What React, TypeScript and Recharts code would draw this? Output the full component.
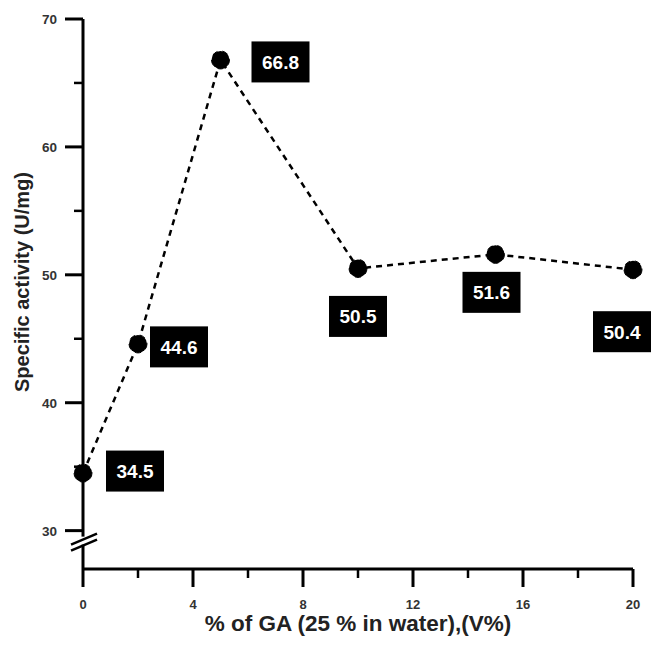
import React from 'react';
import { LineChart, Line, XAxis, YAxis, LabelList } from 'recharts';

const gaPercent = [0, 2, 5, 10, 15, 20];
const activity = [34.5, 44.6, 66.8, 50.5, 51.6, 50.4];
const xTicks = [0, 2, 4, 6, 8, 10, 12, 14, 16, 18, 20];
const yTicks = [30, 35, 40, 45, 50, 55, 60, 65, 70];
// label box offsets (px) from each point
const labelDx = [52, 41, 60, 0, -4, -11];
const labelDy = [-2, 3, 2, 48, 38, 62];

const data = gaPercent.map((x, i) => ({ x, y: activity[i] }));

const FONT = 'Arial, "Liberation Sans", sans-serif';

const XTick = (props: any) => {
  const { x, y, payload } = props;
  const v = payload.value;
  const major = v % 4 === 0;
  return (
    <g>
      <line x1={x} y1={y} x2={x} y2={y + (major ? 18 : 9)} stroke="#000" strokeWidth={major ? 3 : 2.5} />
      {major && (
        <text x={x} y={y + 40} textAnchor="middle" fontSize={13} fontWeight="bold" fill="#333" fontFamily={FONT}>
          {v}
        </text>
      )}
    </g>
  );
};

const YTick = (props: any) => {
  const { x, y, payload } = props;
  const v = payload.value;
  const major = v % 10 === 0;
  return (
    <g>
      <line x1={x} y1={y} x2={x - (major ? 18 : 9)} y2={y} stroke="#000" strokeWidth={major ? 3 : 2.5} />
      {major && (
        <text x={x - 26} y={y + 5} textAnchor="end" fontSize={13.5} fontWeight="bold" fill="#333" fontFamily={FONT}>
          {v}
        </text>
      )}
      {v === 30 && (
        <g>
          <rect x={x - 3} y={y + 6} width={6} height={8} fill="#fff" />
          <line x1={x - 12} y1={y + 14} x2={x + 14} y2={y + 3} stroke="#000" strokeWidth={2.5} />
          <line x1={x - 12} y1={y + 20} x2={x + 14} y2={y + 9} stroke="#000" strokeWidth={2.5} />
        </g>
      )}
    </g>
  );
};

const BoxLabel = (props: any) => {
  const { x, y, value, index } = props;
  const cx = x + labelDx[index];
  const cy = y + labelDy[index];
  return (
    <g>
      <rect x={cx - 29} y={cy - 20.5} width={58} height={41} fill="#000" />
      <text x={cx} y={cy + 7} textAnchor="middle" fontSize={19} fontWeight="bold" fill="#fff" fontFamily={FONT}>
        {value}
      </text>
    </g>
  );
};

export default function App() {
  return (
    <div style={{ position: 'absolute', left: 0, top: 0, width: 664, height: 646, background: '#fff' }}>
      <LineChart width={664} height={646} data={data} margin={{ top: 19, right: 31, bottom: 0, left: 0 }}>
        <XAxis
          dataKey="x"
          type="number"
          domain={[0, 20]}
          ticks={xTicks}
          interval={0}
          height={77}
          tickLine={false}
          tickSize={0}
          tickMargin={0}
          axisLine={{ stroke: '#000', strokeWidth: 3 }}
          tick={<XTick />}
          label={{ value: '% of GA (25 % in water),(V%)', position: 'insideBottom', offset: 15, style: { fontSize: 22.5, fontWeight: 'bold', fill: '#222', fontFamily: FONT } }}
        />
        <YAxis
          type="number"
          domain={[27, 70]}
          ticks={yTicks}
          interval={0}
          width={83}
          tickLine={false}
          tickSize={0}
          tickMargin={0}
          axisLine={{ stroke: '#000', strokeWidth: 3 }}
          tick={<YTick />}
          label={{ value: 'Specific activity (U/mg)', angle: -90, position: 'insideLeft', offset: 22, dy: -12, style: { textAnchor: 'middle', fontSize: 20, fontWeight: 'bold', fill: '#222', fontFamily: FONT } }}
        />
        <Line
          dataKey="y"
          stroke="#000"
          strokeWidth={2.5}
          strokeDasharray="6 5"
          isAnimationActive={false}
          dot={{ r: 9, fill: '#000', stroke: '#000', strokeWidth: 1 }}
        >
          <LabelList dataKey="y" content={<BoxLabel />} />
        </Line>
      </LineChart>
    </div>
  );
}
